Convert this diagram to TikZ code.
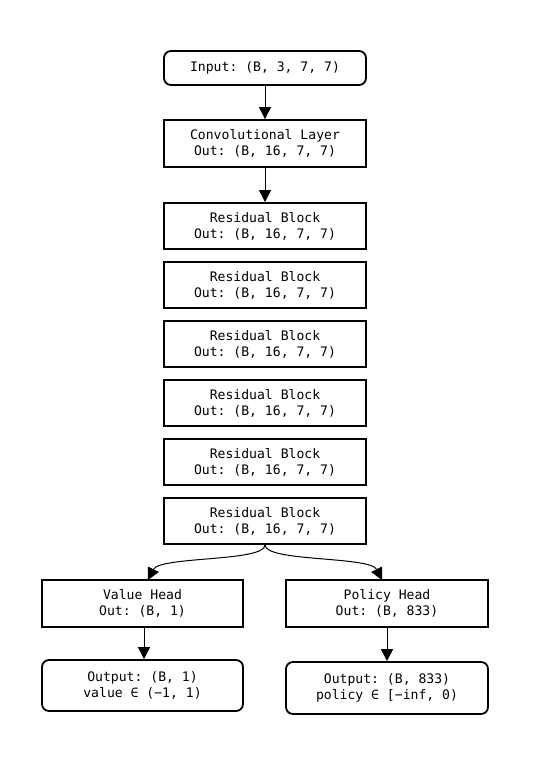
\documentclass[tikz,border=0pt]{standalone}
\usepackage{fontspec}
\setmonofont{DejaVu Sans Mono}
\usetikzlibrary{arrows.meta}
\begin{document}
\begin{tikzpicture}[x=1pt,y=-1pt,
  box/.style={draw=black,line width=1.8pt,minimum width=202pt,inner sep=0pt,align=center,
    font=\ttfamily\fontsize{13.1}{16}\selectfont},
  rbox/.style={box,rounded corners=7pt},
  arr/.style={line width=1pt,-{Triangle[width=12pt,length=12pt]}}]
\useasboundingbox (0,0) rectangle (533,773);
\node[rbox,minimum height=34pt] (in) at (265,68) {Input: (B, 3, 7, 7)};
\node[box,minimum height=47pt] (conv) at (265,143.5) {Convolutional Layer\\Out: (B, 16, 7, 7)};
\foreach \i/\y in {1/226,2/285,3/344,4/403,5/462,6/521}{
  \node[box,minimum height=46pt] (r\i) at (265,\y) {Residual Block\\Out: (B, 16, 7, 7)};
}
\node[box,minimum width=201pt,minimum height=47pt] (vh) at (142.5,603.5) {Value Head\\Out: (B, 1)};
\node[box,minimum height=47pt] (ph) at (387,603.5) {Policy Head\\Out: (B, 833)};
\node[rbox,minimum width=201pt,minimum height=51pt] (vo) at (142.5,685.5) {Output: (B, 1)\\value ∈ (−1, 1)};
\node[rbox,minimum height=52pt] (po) at (387,688) {Output: (B, 833)\\policy ∈ [−inf, 0)};
\draw[arr] (in.south) -- (conv.north);
\draw[arr] (conv.south) -- (r1.north);
\coordinate (vt) at (148,580);
\coordinate (pt) at (382,580);
\draw[arr] (r6.south) .. controls (265,562) and (160,556) .. (vt);
\draw[arr] (r6.south) .. controls (265,562) and (370,556) .. (pt);
\coordinate (a1) at (144,627);
\draw[arr] (a1) -- (a1 |- vo.north);
\draw[arr] (ph.south) -- (po.north);
\end{tikzpicture}
\end{document}
